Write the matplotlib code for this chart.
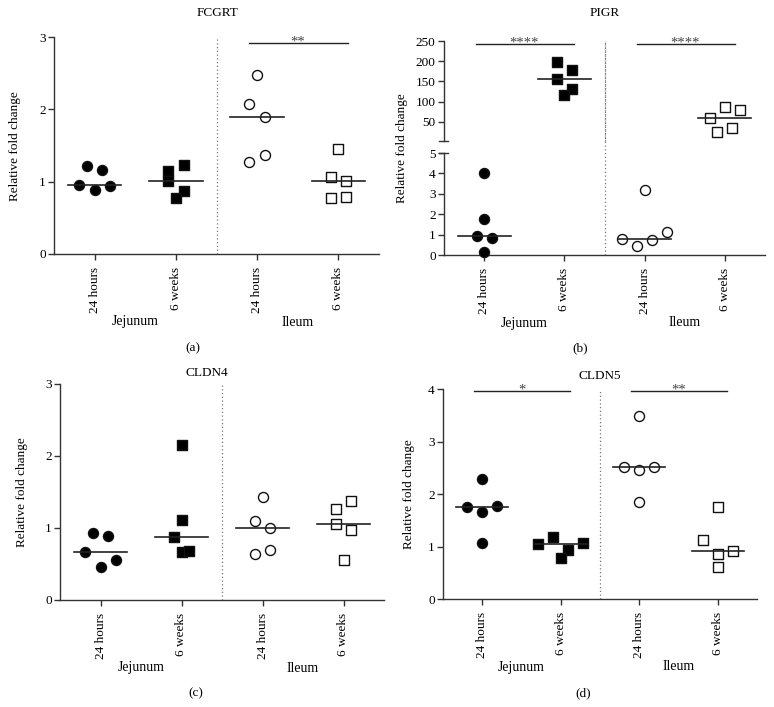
import numpy as np
import matplotlib
matplotlib.use('Agg')
import matplotlib.pyplot as plt
from matplotlib.lines import Line2D

plt.rcParams['font.family'] = ['Liberation Serif', 'DejaVu Serif']
plt.rcParams['font.size'] = 9.5

W, H = 774, 707

# categories
tick_labels = ['24 hours', '6 weeks', '24 hours', '6 weeks']
regions = ['Jejunum', 'Ileum']

# values (relative fold change), order inside each list only matters for swarm layout
fcgrt_jej_24h = [1.22, 1.16, 0.96, 0.88, 0.94]
fcgrt_jej_6w = [1.15, 1.23, 1.01, 0.87, 0.77]
fcgrt_ile_24h = [2.47, 2.08, 1.89, 1.27, 1.37]
fcgrt_ile_6w = [1.45, 1.06, 1.01, 0.77, 0.79]

pigr_jej_24h = [4.0, 1.75, 0.94, 0.84, 0.15]
pigr_jej_6w = [197, 179, 155, 131, 117]
pigr_ile_24h = [3.2, 0.76, 0.46, 0.73, 1.13]
pigr_ile_6w = [60, 88, 79.7, 24.5, 34]

cldn4_jej_24h = [0.93, 0.89, 0.66, 0.46, 0.55]
cldn4_jej_6w = [2.15, 1.11, 0.88, 0.66, 0.68]
cldn4_ile_24h = [1.43, 1.10, 1.00, 0.64, 0.69]
cldn4_ile_6w = [1.26, 1.37, 1.06, 0.97, 0.56]

cldn5_jej_24h = [2.29, 1.75, 1.65, 1.77, 1.07]
cldn5_jej_6w = [1.04, 1.18, 0.94, 1.06, 0.79]
cldn5_ile_24h = [3.48, 2.51, 2.45, 2.52, 1.84]
cldn5_ile_6w = [1.76, 1.13, 0.85, 0.92, 0.61]

# significance: (group from, group to, stars)
fcgrt_sig = [(2, 3, '**')]
pigr_sig = [(0, 1, '****'), (2, 3, '****')]
cldn4_sig = []
cldn5_sig = [(0, 1, '*'), (2, 3, '**')]

styles = [
    dict(marker='o', facecolor='black'),
    dict(marker='s', facecolor='black'),
    dict(marker='o', facecolor='white'),
    dict(marker='s', facecolor='white'),
]

fig = plt.figure(figsize=(W / 100, H / 100), dpi=100)


def box(l, r, t, b):
    return [l / W, 1 - b / H, (r - l) / W, (b - t) / H]


def swarm_offsets(values, px_per_unit, thresh=15, step=0.19):
    vals = np.asarray(values, dtype=float)
    order = np.argsort(-vals, kind='stable')
    groups = []
    for i in order:
        if groups and (vals[groups[-1][0]] - vals[i]) * px_per_unit < thresh:
            groups[-1].append(i)
        else:
            groups.append([i])
    off = np.zeros(len(vals))
    for g in groups:
        g = sorted(g)
        n = len(g)
        for k, i in enumerate(g):
            off[i] = (k - (n - 1) / 2) * step
    return off


def style_axis(ax, ylim, yticks, xaxis=True):
    ax.set_xlim(-0.5, 3.5)
    ax.set_ylim(*ylim)
    ax.set_yticks(yticks)
    for s in ['top', 'right']:
        ax.spines[s].set_visible(False)
    for s in ['left', 'bottom']:
        ax.spines[s].set_color('#333333')
        ax.spines[s].set_linewidth(1.0)
    ax.tick_params(axis='y', direction='out', length=4, width=1, color='#333333', pad=2)
    if xaxis:
        ax.set_xticks(range(4))
        ax.set_xticklabels(tick_labels, rotation=90)
        ax.tick_params(axis='x', direction='out', length=4, width=1, color='#333333', pad=5)
    else:
        ax.spines['bottom'].set_visible(False)
        ax.set_xticks([])
    ax.patch.set_alpha(0)


def draw_groups(ax, groups, positions):
    pos = ax.get_position()
    y0, y1 = ax.get_ylim()
    ppu = pos.height * H / (y1 - y0)
    for gi, vals in zip(positions, groups):
        off = swarm_offsets(vals, ppu)
        st = styles[gi]
        ax.scatter(gi + off, vals, s=52, marker=st['marker'], facecolor=st['facecolor'],
                   edgecolor='#111111', linewidth=1.0, zorder=3, clip_on=False)
        med = np.median(vals)
        ax.plot([gi - 0.33, gi + 0.33], [med, med], color='#222222', lw=1.2, zorder=4)


def draw_sig(ax, sig, y):
    for a, b, stars in sig:
        ax.plot([a - 0.1, b + 0.12], [y, y], color='#222222', lw=1.0, clip_on=False)
        ax.annotate(stars, xy=((a + b) / 2, y), xytext=(0, -2.0), textcoords='offset points',
                    ha='center', va='baseline', fontsize=10.5, color='#444444')


def decorate(ax, title, title_xy, ylab_xy, panel, panel_xy):
    for k, name in enumerate(regions):
        ax.annotate(name, xy=(2 * k + 0.5, 0), xycoords=ax.get_xaxis_transform(),
                    xytext=(0, -68 * 0.72), textcoords='offset points',
                    ha='center', va='center', fontsize=10)
    fig.text(title_xy[0] / W, 1 - title_xy[1] / H, title, ha='center', va='center', fontsize=9.5)
    fig.text(ylab_xy[0] / W, 1 - ylab_xy[1] / H, 'Relative fold change', rotation=90,
             ha='center', va='center', fontsize=9.5)
    fig.text(panel_xy[0] / W, 1 - panel_xy[1] / H, panel, ha='center', va='center', fontsize=9.5)


def divider(ax, ymax=1.0):
    ax.axvline(1.5, ymin=0, ymax=ymax, color='#777777', lw=0.9, ls=(0, (1, 2)), clip_on=False)


# (a) FCGRT
ax_a = fig.add_axes(box(54, 379, 37, 254))
style_axis(ax_a, (0, 3), [0, 1, 2, 3])
draw_groups(ax_a, [fcgrt_jej_24h, fcgrt_jej_6w, fcgrt_ile_24h, fcgrt_ile_6w], range(4))
divider(ax_a)
draw_sig(ax_a, fcgrt_sig, 2.92)
decorate(ax_a, 'FCGRT', (217, 13), (15, 146), '(a)', (193, 348))

# (b) PIGR, broken axis
ax_bu = fig.add_axes(box(444, 765, 41, 141))
ax_bl = fig.add_axes(box(444, 765, 153, 255))
style_axis(ax_bu, (3, 250), [50, 100, 150, 200, 250], xaxis=False)
style_axis(ax_bl, (0, 5), [0, 1, 2, 3, 4, 5])
draw_groups(ax_bl, [pigr_jej_24h, pigr_ile_24h], [0, 2])
draw_groups(ax_bu, [pigr_jej_6w, pigr_ile_6w], [1, 3])
ax_bu.set_xlim(-0.5, 3.5)
divider(ax_bu)
pl = ax_bl.get_position()
pu = ax_bu.get_position()
divider(ax_bl, ymax=(pu.y1 - pl.y0) / pl.height)
draw_sig(ax_bu, pigr_sig, 242)
for yy in (pu.y0, pl.y1):
    fig.add_artist(Line2D([pl.x0 - 5 / W, pl.x0 + 4 / W], [yy, yy], color='#333333', lw=1.0))
decorate(ax_bl, 'PIGR', (605, 13), (402, 148), '(b)', (580, 348))

# (c) CLDN4
ax_c = fig.add_axes(box(60, 384, 384, 600))
style_axis(ax_c, (0, 3), [0, 1, 2, 3])
draw_groups(ax_c, [cldn4_jej_24h, cldn4_jej_6w, cldn4_ile_24h, cldn4_ile_6w], range(4))
divider(ax_c)
draw_sig(ax_c, cldn4_sig, 2.9)
decorate(ax_c, 'CLDN4', (207, 373), (22, 492), '(c)', (196, 693))

# (d) CLDN5
ax_d = fig.add_axes(box(443, 757, 389, 599))
style_axis(ax_d, (0, 4), [0, 1, 2, 3, 4])
draw_groups(ax_d, [cldn5_jej_24h, cldn5_jej_6w, cldn5_ile_24h, cldn5_ile_6w], range(4))
divider(ax_d)
draw_sig(ax_d, cldn5_sig, 3.96)
decorate(ax_d, 'CLDN5', (600, 376), (409, 494), '(d)', (583, 693))

fig.savefig('out.png', dpi=100)
